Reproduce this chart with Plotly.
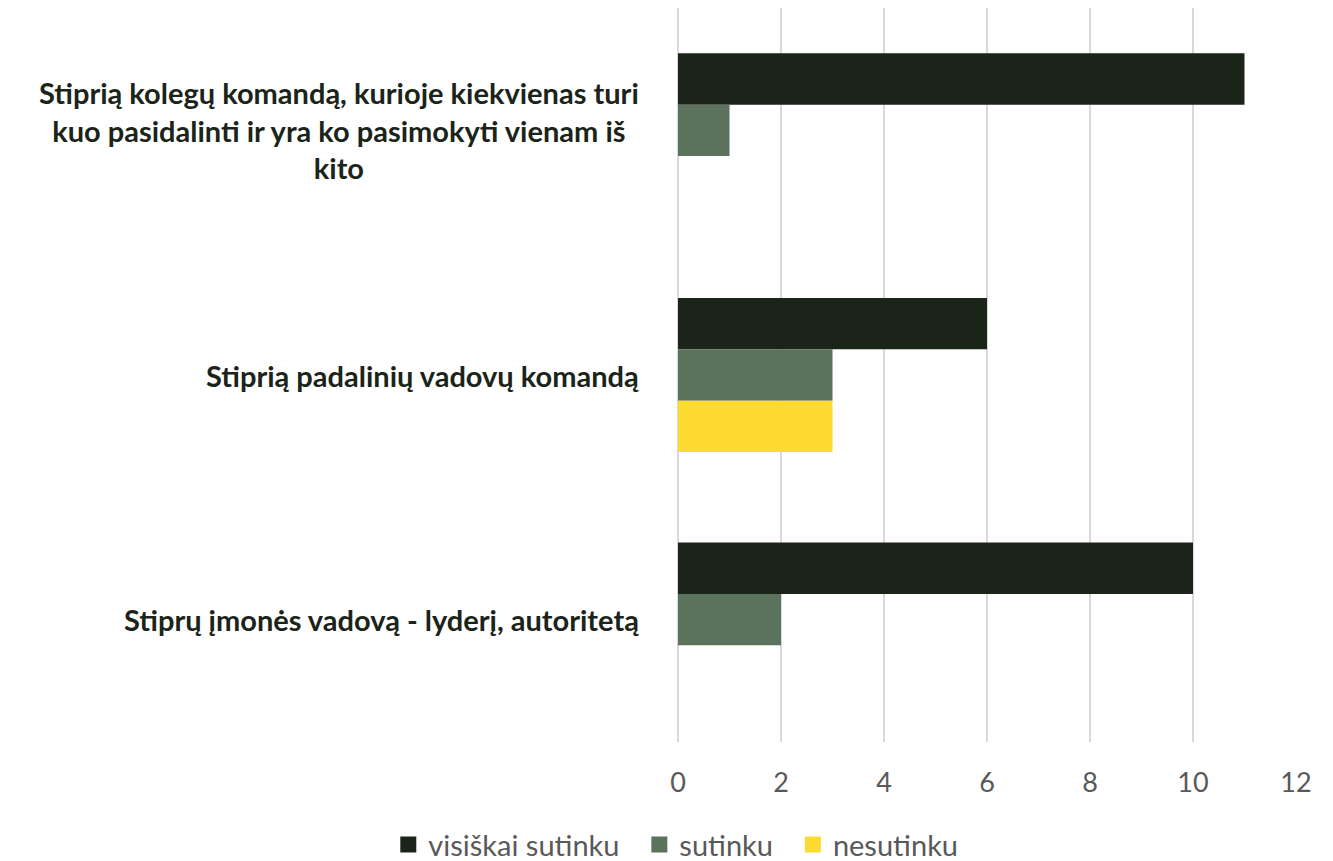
import plotly.graph_objects as go

categories = [
    "Stiprią kolegų komandą, kurioje kiekvienas turi<br>kuo pasidalinti ir yra ko pasimokyti vienam iš<br>kito",
    "Stiprią padalinių vadovų komandą",
    "Stiprų įmonės vadovą - lyderį, autoritetą",
]
series_names = ["visiškai sutinku", "sutinku", "nesutinku"]
visiskai_sutinku = [11, 6, 10]
sutinku = [1, 3, 2]
nesutinku = [0, 3, 0]
colors = ["#1b2419", "#5b735c", "#fddb31"]
x_ticks = [0, 2, 4, 6, 8, 10, 12]

cat_ids = ["c0", "c1", "c2"]

fig = go.Figure()
for name, vals, col in zip(series_names, [visiskai_sutinku, sutinku, nesutinku], colors):
    fig.add_trace(go.Bar(
        y=cat_ids, x=vals, name=name, orientation="h",
        marker=dict(color=col, line=dict(width=0)),
        showlegend=False,
    ))
# legend entries with larger square swatches
for i, (name, col) in enumerate(zip(series_names, colors)):
    pad = "\u00a0\u00a0" if i < len(series_names) - 1 else ""
    fig.add_trace(go.Scatter(
        x=[None], y=[None], mode="markers", name=name + pad,
        marker=dict(symbol="square", size=18, color=col),
        showlegend=True,
    ))

for cid, label in zip(cat_ids, categories):
    fig.add_annotation(
        x=0, xref="paper", xshift=-37, xanchor="right",
        y=cid, yref="y", yanchor="middle",
        text="<b>" + label + "</b>", showarrow=False, align="center",
        font=dict(family="Lato", size=29, color="#1b2419"),
    )

fig.update_layout(
    width=1325, height=853,
    margin=dict(l=670, r=37, t=0, b=119),
    paper_bgcolor="white", plot_bgcolor="white",
    barmode="group", bargap=0.37, bargroupgap=0,
    font=dict(family="Lato", color="#595959"),
    xaxis=dict(
        range=[0, 12], tickvals=x_ticks, showgrid=True,
        gridcolor="#d9d9d9", gridwidth=1.5, zeroline=True,
        zerolinecolor="#d9d9d9", zerolinewidth=1.5,
        tickfont=dict(family="Lato", size=27, color="#595959"),
        ticks="", ticklabelstandoff=22, showline=False,
    ),
    yaxis=dict(
        categoryorder="array", categoryarray=cat_ids,
        autorange="reversed", showticklabels=False, showgrid=False,
        zeroline=False, ticks="",
    ),
    legend=dict(
        orientation="h", xref="container", x=0.504, xanchor="center",
        yref="container", y=0.049, yanchor="top",
        font=dict(family="Lato", size=29, color="#595959"),
        itemwidth=30, traceorder="normal",
    ),
    showlegend=True,
)

fig.write_html("out.html")
